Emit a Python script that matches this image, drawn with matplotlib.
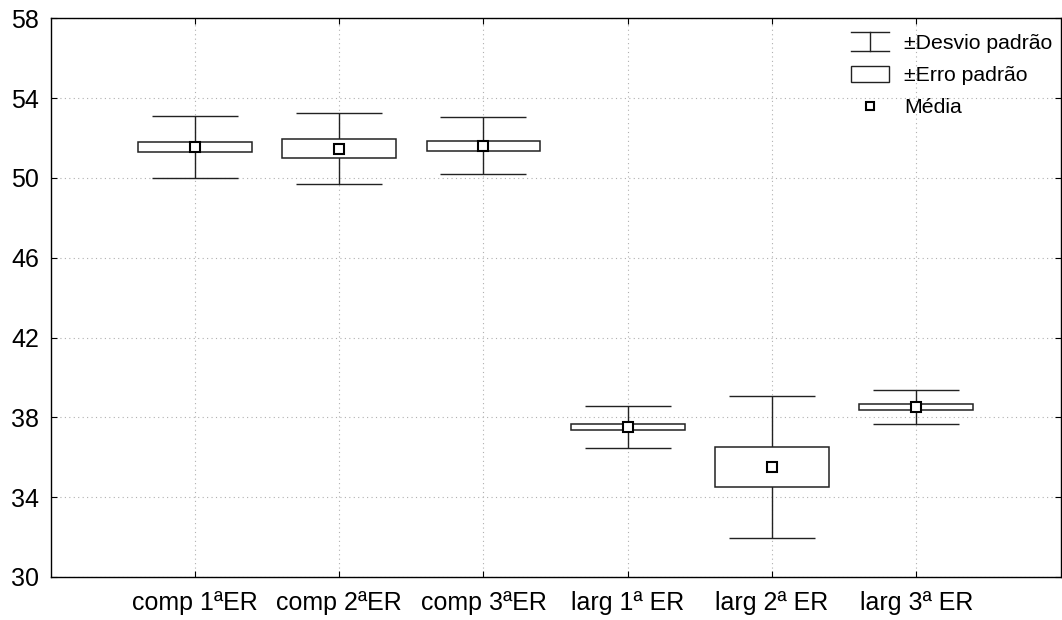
import matplotlib
matplotlib.use("Agg")
import matplotlib.pyplot as plt
import numpy as np
from matplotlib.legend_handler import HandlerBase
from matplotlib.lines import Line2D
from matplotlib.patches import Rectangle

plt.rcParams['font.family'] = ['Liberation Sans', 'DejaVu Sans']

# data
categories = ["comp 1ªER", "comp 2ªER", "comp 3ªER", "larg 1ª ER", "larg 2ª ER", "larg 3ª ER"]
means = [51.55, 51.47, 51.61, 37.53, 35.52, 38.52]
std_err = [0.24, 0.47, 0.26, 0.15, 1.00, 0.14]
std_dev = [1.55, 1.78, 1.42, 1.05, 3.56, 0.85]
y_ticks = [30, 34, 38, 42, 46, 50, 54, 58]


class WhiskerHandle:
    pass


class HandlerWhisker(HandlerBase):
    def create_artists(self, legend, orig_handle, xdescent, ydescent,
                       width, height, fontsize, trans):
        x0, x1 = -xdescent, -xdescent + width
        y0, y1 = -ydescent - 0.1 * height, -ydescent + 1.1 * height
        xm = (x0 + x1) / 2
        kw = dict(color="#222222", lw=1.0, transform=trans)
        return [Line2D([x0, x1], [y1, y1], **kw),
                Line2D([x0, x1], [y0, y0], **kw),
                Line2D([xm, xm], [y0, y1], **kw)]


def main():
    fig = plt.figure(figsize=(10.62, 6.2), dpi=100)
    ax = fig.add_axes([0.0477, 0.0694, 0.951, 0.9011])

    x = np.arange(len(categories))
    means_a = np.array(means)
    se_a = np.array(std_err)
    sd_a = np.array(std_dev)

    ax.errorbar(x, means_a, yerr=sd_a, fmt="none", ecolor="#222222",
                elinewidth=1.0, capsize=31, capthick=1.0, zorder=2)
    ax.bar(x, 2 * se_a, bottom=means_a - se_a, width=0.79, color="white",
           edgecolor="#222222", linewidth=1.1, zorder=3)
    ax.plot(x, means_a, ls="none", marker="s", markersize=6.5,
            markerfacecolor="white", markeredgecolor="black",
            markeredgewidth=1.5, zorder=4)

    ax.set_xlim(-1, 6)
    ax.set_ylim(30, 58)
    ax.set_xticks(x)
    ax.set_xticklabels(categories)
    ax.set_yticks(y_ticks)
    ax.tick_params(axis="both", direction="in", length=4, width=0.8,
                   top=True, right=True, labelsize=18, colors="black")
    ax.tick_params(axis="x", pad=10)
    ax.tick_params(axis="y", pad=8.5)
    ax.grid(True, ls=(0, (1, 3)), color="#b0b0b0", lw=0.8)
    ax.set_axisbelow(True)
    for s in ax.spines.values():
        s.set_linewidth(1.0)

    box_handle = Rectangle((0, 0), 1, 1, facecolor="white",
                           edgecolor="#222222", linewidth=1.0)
    mean_handle = Line2D([], [], ls="none", marker="s", markersize=5.5,
                         markerfacecolor="white", markeredgecolor="black",
                         markeredgewidth=1.5)
    ax.legend([WhiskerHandle(), box_handle, mean_handle],
              ["±Desvio padrão", "±Erro padrão", "Média"],
              handler_map={WhiskerHandle: HandlerWhisker()},
              loc="upper right", bbox_to_anchor=(1.0, 0.9875), frameon=False,
              fontsize=15.3, handlelength=1.8, handleheight=0.78,
              labelspacing=0.6, handletextpad=0.7, borderaxespad=0.0)

    fig.savefig("out.png", dpi=100)


if __name__ == "__main__":
    main()
